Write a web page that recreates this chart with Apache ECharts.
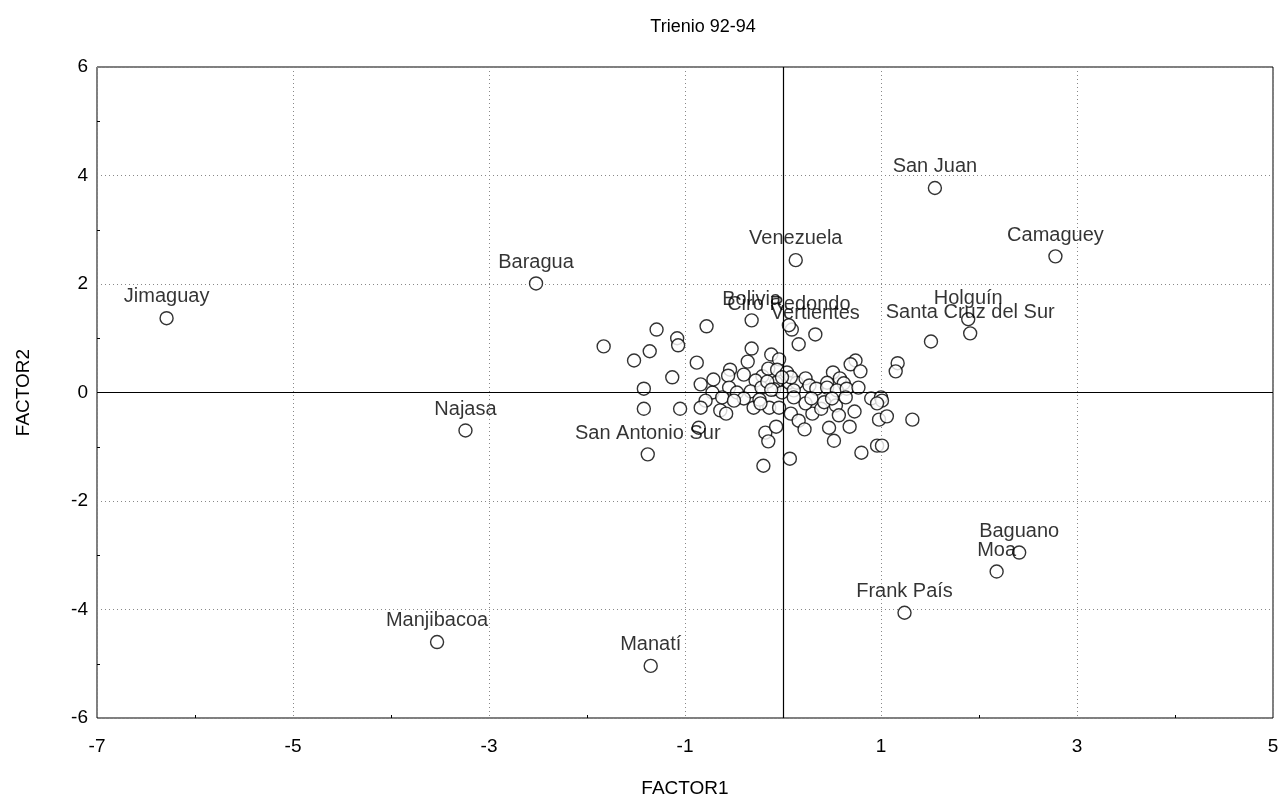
<!DOCTYPE html>
<html>
<head>
<meta charset="utf-8">
<script src="https://cdn.jsdelivr.net/npm/echarts@6/dist/echarts.min.js"></script>
<style>html,body{margin:0;padding:0;background:#fff}#c{width:1287px;height:806px}</style>
</head>
<body>
<div id="c"></div>
<script>
const chartTitle = 'Trienio 92-94';
const xName = 'FACTOR1';
const yName = 'FACTOR2';

const labeledNames = ['Jimaguay','Baragua','Najasa','San Antonio Sur','Manjibacoa','Manatí','Frank País','Moa','Baguano','San Juan','Camaguey','Venezuela','Holguín','Santa Cruz del Sur','Bolivia','Ciro Redondo','Vertientes'];
const labeledX = [-6.29,-2.52,-3.24,-1.38,-3.53,-1.35,1.24,2.18,2.41,1.55,2.78,0.13,1.89,1.91,-0.32,0.06,0.33];
const labeledY = [1.37,2.01,-0.70,-1.14,-4.60,-5.04,-4.06,-3.30,-2.95,3.77,2.51,2.44,1.35,1.09,1.33,1.24,1.07];

const otherX = [-1.83,-1.29,-1.08,-1.07,-0.78,-1.36,-1.52,-0.88,-1.13,-1.42,-1.42,-1.05,-0.32,-0.12,-0.36,0.09,0.16,-0.54,-0.56,-0.40,-0.21,-0.04,-0.15,-0.06,-0.28,-0.07,-0.84,-0.55,-0.72,-0.47,-0.33,-0.22,-0.09,-0.01,0.74,0.69,0.79,0.51,0.58,0.45,0.62,0.04,0.06,0.14,0.23,0.27,0.34,0.45,0.55,0.65,0.77,0.11,0.90,1.00,-0.79,-0.84,-0.64,-0.58,-0.62,-0.30,-0.14,-0.04,-0.86,-0.18,-0.15,-0.07,-0.20,0.07,0.08,0.16,0.22,0.30,0.39,0.23,0.42,0.54,0.57,0.47,0.52,0.68,0.73,0.98,1.06,0.80,0.96,1.01,1.17,1.15,1.01,0.96,1.32,1.51,-0.40,-0.24,-0.50,0.11,0.29,0.50,0.64,-0.16,-0.23,0.08,-0.01,-0.71,-0.12];
const otherY = [0.85,1.16,1.00,0.87,1.22,0.76,0.59,0.55,0.28,0.07,-0.30,-0.30,0.81,0.70,0.57,1.16,0.89,0.42,0.31,0.33,0.30,0.61,0.44,0.42,0.22,0.18,0.15,0.09,0.00,0.00,0.02,0.09,0.06,0.00,0.59,0.52,0.39,0.37,0.26,0.18,0.17,0.37,0.18,0.18,0.26,0.13,0.07,0.09,0.04,0.07,0.09,0.04,-0.11,-0.09,-0.15,-0.28,-0.33,-0.39,-0.09,-0.28,-0.28,-0.28,-0.65,-0.74,-0.90,-0.63,-1.35,-1.22,-0.39,-0.52,-0.68,-0.39,-0.30,-0.20,-0.18,-0.24,-0.42,-0.65,-0.89,-0.63,-0.35,-0.50,-0.44,-1.11,-0.98,-0.98,0.54,0.39,-0.15,-0.20,-0.50,0.94,-0.11,-0.13,-0.15,-0.09,-0.11,-0.11,-0.09,0.20,-0.20,0.28,0.28,0.24,0.05];

const xTicks = [-7,-5,-3,-1,1,3,5];
const yTicks = [-6,-4,-2,0,2,4,6];

const chart = echarts.init(document.getElementById('c'), null, {renderer:'canvas'});
const markerStyle = {color:'#fff', borderColor:'#000', borderWidth:1.4};
const labeledData = labeledNames.map((n,i)=>({name:n, value:[labeledX[i], labeledY[i]]}));
const otherData = otherX.map((x,i)=>[x, otherY[i]]);
const font = 'Arial, "Liberation Sans", sans-serif';

chart.setOption({
  animation:false,
  backgroundColor:'#fff',
  title:{text:chartTitle, left:698, top:13, textAlign:'center',
    textStyle:{fontFamily:font, fontSize:18, fontWeight:'normal', color:'#000'}},
  grid:{left:97, top:67, width:1176, height:651, show:true, borderColor:'#000', borderWidth:1, containLabel:false},
  xAxis:{type:'value', min:xTicks[0], max:xTicks[xTicks.length-1], interval:2,
    name:xName, nameLocation:'middle', nameGap:61,
    nameTextStyle:{fontFamily:font, fontSize:19, color:'#000'},
    axisLine:{show:false, onZero:false}, axisTick:{show:false, inside:true},
    minorTick:{show:true, splitNumber:2, length:3, lineStyle:{color:'#000'}},
    axisLabel:{fontFamily:font, fontSize:19, color:'#000', margin:19},
    splitLine:{show:true, lineStyle:{color:'#888', type:[1,3], width:1}}},
  yAxis:{type:'value', min:yTicks[0], max:yTicks[yTicks.length-1], interval:2,
    name:yName, nameLocation:'middle', nameGap:64, nameRotate:90,
    nameTextStyle:{fontFamily:font, fontSize:19, color:'#000'},
    axisLine:{show:false, onZero:false}, axisTick:{show:false, inside:true},
    minorTick:{show:true, splitNumber:2, length:3, lineStyle:{color:'#000'}},
    axisLabel:{fontFamily:font, fontSize:19, color:'#000', margin:9},
    splitLine:{show:true, lineStyle:{color:'#888', type:[1,3], width:1}}},
  series:[
    {type:'scatter', data:otherData, symbol:'circle', symbolSize:13, itemStyle:markerStyle, z:3,
      markLine:{silent:true, symbol:'none', label:{show:false}, animation:false,
        lineStyle:{color:'#000', type:'solid', width:1.2},
        data:[{xAxis:0},{yAxis:0}]}},
    {type:'scatter', data:labeledData, symbol:'circle', symbolSize:13, itemStyle:markerStyle, z:4,
      label:{show:true, position:'top', distance:4, formatter:'{b}', fontFamily:font, fontSize:20, color:'#000'}}
  ]
});
</script>
</body>
</html>
